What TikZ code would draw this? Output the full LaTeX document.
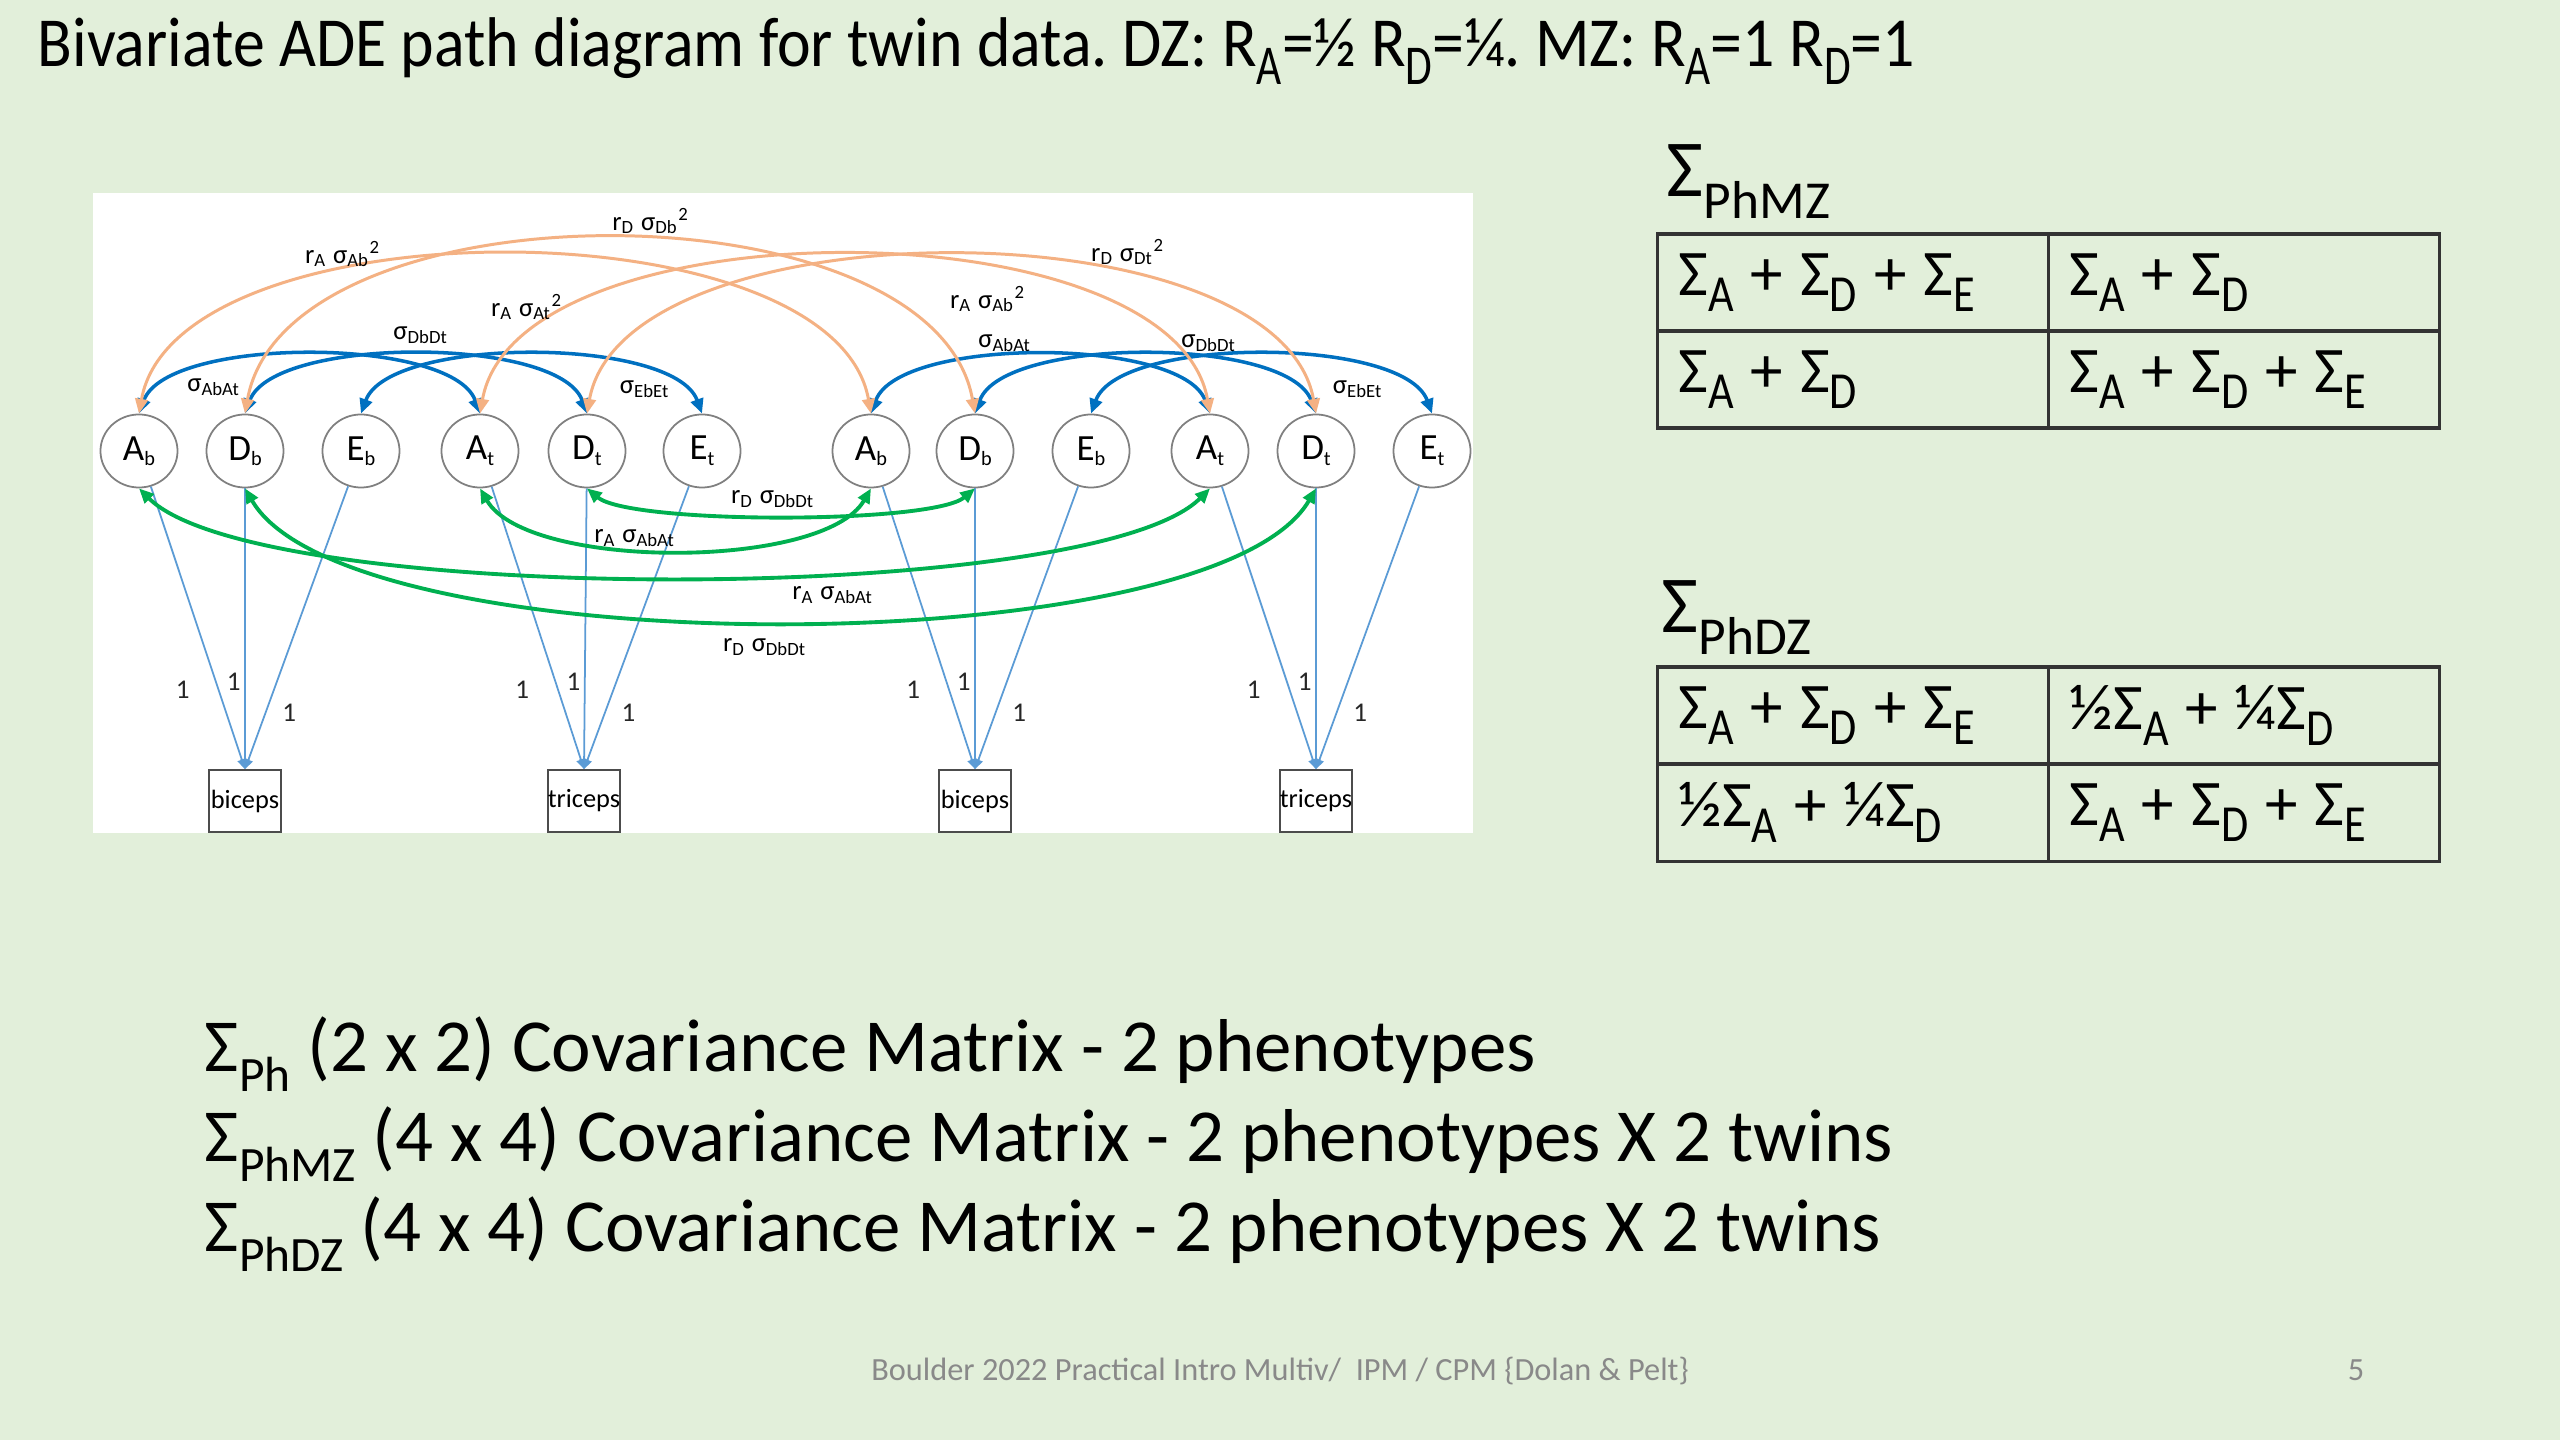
\documentclass[tikz,border=0pt]{standalone}
\usepackage{fontspec}
\setmainfont{Carlito}
\newfontfamily\titlefont[FakeStretch=0.907]{Carlito}
\usepackage{graphicx}
\usepackage{xcolor}
\usepackage{tikz}
\usetikzlibrary{positioning,arrows.meta,shapes.geometric}

\definecolor{slidegreen}{RGB}{226,239,218}
\definecolor{covblue}{RGB}{0,112,192}
\definecolor{loadblue}{RGB}{91,155,213}
\definecolor{twinorange}{RGB}{244,177,131}
\definecolor{crossgreen}{RGB}{0,176,80}
\definecolor{footgray}{RGB}{137,137,137}

% lowered, shrunk index as the slide sets it
\newcommand{\dn}[1]{\raisebox{-0.25em}{\scalebox{0.68}[0.8]{#1}}}
\newcommand{\dnsm}[1]{\raisebox{-0.27em}{\scalebox{0.66}{#1}}}
\newcommand{\fsub}[1]{\raisebox{-0.15em}{\scalebox{0.55}{#1}}}
\newcommand{\pl}{\hspace{0.26em}+\hspace{0.26em}}

\begin{document}
\frenchspacing
\begin{tikzpicture}[
  x=0.01cm, y=-0.01cm,
  lat/.style={ellipse, draw=black!50, line width=0.5pt, minimum width=7.7mm, minimum height=7.3mm,
              inner sep=0pt, font=\fontsize{10.5}{12}\selectfont},
  obs/.style={rectangle, draw=black!70, line width=0.5pt, minimum width=7.2mm, minimum height=6.2mm,
              inner sep=0pt, font=\fontsize{7.5}{9}\selectfont},
  load/.style={-{Triangle[length=2.8pt,width=2.6pt]}, loadblue, line width=0.5pt},
  one/.style={font=\fontsize{7.7}{9}\selectfont, text=black!85, inner sep=0pt},
  cov/.style={{Triangle[length=4.2pt,width=3.6pt]}-{Triangle[length=4.2pt,width=3.6pt]}, line width=1pt},
  lbl/.style={font=\fontsize{7.6}{9}\selectfont, inner sep=0pt},
  cell/.style={draw=black!80, line width=0.9pt, minimum width=3.91cm, minimum height=0.97cm,
               text width=3.49cm, align=left, inner sep=0pt, outer sep=0pt,
               font=\fontsize{18.5}{22}\selectfont},
  big/.style={font=\fontsize{21.3}{25}\selectfont, inner sep=0pt, anchor=base west},
  foot/.style={font=\fontsize{9.2}{11}\selectfont, text=footgray, inner sep=0pt, anchor=base}
]
\useasboundingbox (0,0) rectangle (2560,1440);
\fill[slidegreen] (0,0) rectangle (2560,1440);
\fill[white] (93,193) rectangle (1473,833);

% ----- title -----
\node[big, font=\titlefont\fontsize{20}{24}\selectfont] (title) at (37,67)
  {Bivariate ADE path diagram for twin data. DZ: R\dn{A}=½ R\dn{D}=¼. MZ: R\dn{A}=1 R\dn{D}=1};

% ----- latent factors and measures -----
\foreach \nm/\px/\lt/\st in {Ab1/139/A/b, Db1/245/D/b, Eb1/361/E/b, At1/480/A/t, Dt1/587/D/t, Et1/702/E/t,
                             Ab2/871/A/b, Db2/975/D/b, Eb2/1091/E/b, At2/1210/A/t, Dt2/1316/D/t, Et2/1432/E/t}
  \node[lat] (\nm) at (\px,451) {\lt\fsub{\st}};
\foreach \nm/\px/\tx in {bic1/245/biceps, tri1/584/triceps, bic2/975/biceps, tri2/1316/triceps}
  \node[obs] (\nm) at (\px,801) {\tx};

% ----- fixed loadings -----
\foreach \a/\d/\e/\o in {Ab1/Db1/Eb1/bic1, At1/Dt1/Et1/tri1, Ab2/Db2/Eb2/bic2, At2/Dt2/Et2/tri2}{
  \draw[load] (\a) -- node[one, pos=0.72, left=8pt] (w\a) {1} (\o.north);
  \draw[load] (\d) -- node[one, pos=0.69, left=1pt] (w\d) {1} (\o.north);
  \draw[load] (\e) -- node[one, pos=0.8, right=4.5pt] (w\e) {1} (\o.north);
}

% ----- within-person covariances (blue) -----
\foreach \t in {1,2}{
  \foreach \f in {A,D,E}
    \draw[cov, covblue] (\f b\t.north) to[out=70, in=110, looseness=0.62] (\f t\t.north);
}
\node[lbl] (sab1) at (214,387) {σ\textsubscript{AbAt}};
\node[lbl] (sdb1) at (421,335) {σ\textsubscript{DbDt}};
\node[lbl] (seb1) at (645,389) {σ\textsubscript{EbEt}};
\node[lbl] (sab2) at (1005,343) {σ\textsubscript{AbAt}};
\node[lbl] (sdb2) at (1209,343) {σ\textsubscript{DbDt}};
\node[lbl] (seb2) at (1358,389) {σ\textsubscript{EbEt}};

% ----- same trait across twins (orange) -----
\draw[cov, twinorange, line width=0.85pt] (Ab1.north) to[out=80, in=100, looseness=0.75] (Ab2.north);
\draw[cov, twinorange, line width=0.85pt] (Db1.north) to[out=80, in=100, looseness=0.83] (Db2.north);
\draw[cov, twinorange, line width=0.85pt] (At1.north) to[out=80, in=100, looseness=0.75] (At2.north);
\draw[cov, twinorange, line width=0.85pt] (Dt1.north) to[out=80, in=100, looseness=0.75] (Dt2.north);
\node[lbl] (rab1) at (343,254) {r\textsubscript{A} σ\textsubscript{Ab}\textsuperscript{2}};
\node[lbl] (rdb) at (651,221) {r\textsubscript{D} σ\textsubscript{Db}\textsuperscript{2}};
\node[lbl] (rat) at (527,307) {r\textsubscript{A} σ\textsubscript{At}\textsuperscript{2}};
\node[lbl] (rdt) at (1128,252) {r\textsubscript{D} σ\textsubscript{Dt}\textsuperscript{2}};
\node[lbl] (rab2) at (988,299) {r\textsubscript{A} σ\textsubscript{Ab}\textsuperscript{2}};

% ----- cross trait across twins (green) -----
\draw[cov, crossgreen, line width=1.1pt] (Ab1.south) to[out=-45, in=-135, looseness=0.4] (At2.south);
\draw[cov, crossgreen, line width=1.1pt] (Db1.south) to[out=-60, in=-120, looseness=0.49] (Dt2.south);
\draw[cov, crossgreen, line width=1.1pt] (At1.south) to[out=-60, in=-120, looseness=0.62] (Ab2.south);
\draw[cov, crossgreen, line width=1.1pt] (Dt1.south) to[out=-40, in=-140, looseness=0.37] (Db2.south);
\node[lbl] (gdd1) at (773,499) {r\textsubscript{D} σ\textsubscript{DbDt}};
\node[lbl] (gaa1) at (635,538) {r\textsubscript{A} σ\textsubscript{AbAt}};
\node[lbl] (gaa2) at (833,595) {r\textsubscript{A} σ\textsubscript{AbAt}};
\node[lbl] (gdd2) at (765,647) {r\textsubscript{D} σ\textsubscript{DbDt}};

% ----- MZ matrix -----
\node[big, font=\fontsize{23}{27}\selectfont] (mzlab) at (1666,197) {Σ\dnsm{PhMZ}};
\node[cell] (mz11) at (1853,282.5) {Σ\dn{A}\pl Σ\dn{D}\pl Σ\dn{E}};
\node[cell, right=0pt of mz11] (mz12) {Σ\dn{A}\pl Σ\dn{D}};
\node[cell, below=0pt of mz11] (mz21) {Σ\dn{A}\pl Σ\dn{D}};
\node[cell, right=0pt of mz21] (mz22) {Σ\dn{A}\pl Σ\dn{D}\pl Σ\dn{E}};

% ----- DZ matrix -----
\node[big, font=\fontsize{23}{27}\selectfont] (dzlab) at (1661,633) {Σ\dnsm{PhDZ}};
\node[cell] (dz11) at (1853,715.5) {Σ\dn{A}\pl Σ\dn{D}\pl Σ\dn{E}};
\node[cell, right=0pt of dz11] (dz12) {½Σ\dn{A}\pl ¼Σ\dn{D}};
\node[cell, below=0pt of dz11] (dz21) {½Σ\dn{A}\pl ¼Σ\dn{D}};
\node[cell, right=0pt of dz21] (dz22) {Σ\dn{A}\pl Σ\dn{D}\pl Σ\dn{E}};

% ----- matrix sizes -----
\node[big] (ph) at (204,1071) {Σ\dnsm{Ph} (2 x 2) Covariance Matrix - 2 phenotypes};
\node[big] (phmz) at (204,1161) {Σ\dnsm{PhMZ} (4 x 4) Covariance Matrix - 2 phenotypes X 2 twins};
\node[big] (phdz) at (204,1251) {Σ\dnsm{PhDZ} (4 x 4) Covariance Matrix - 2 phenotypes X 2 twins};

% ----- footer -----
\node[foot] (foot) at (1280,1380) {Boulder 2022 Practical Intro Multiv/\ \ IPM / CPM \{Dolan \& Pelt\}};
\node[foot] (pgno) at (2356,1380) {5};
\end{tikzpicture}
\end{document}
